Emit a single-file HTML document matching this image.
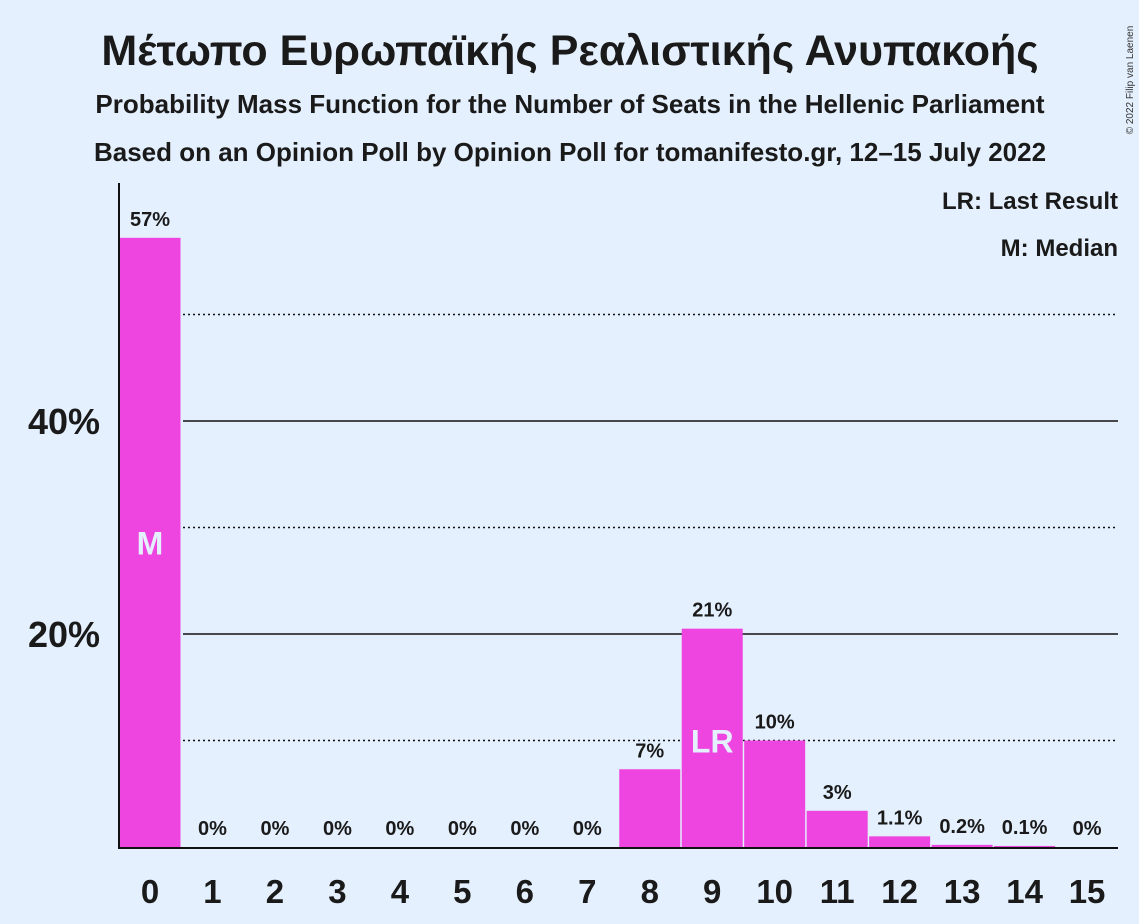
<!DOCTYPE html>
<html><head><meta charset="utf-8"><style>
body{margin:0;background:#e4f0fd;}
svg{display:block;font-family:"Liberation Sans",sans-serif;font-weight:bold;}
</style></head><body>
<svg id="chart" width="1139" height="924" viewBox="0 0 1139 924">
<rect width="1139" height="924" fill="#e4f0fd"/>
<text x="570" y="65" text-anchor="middle" font-size="43" fill="#1a1a1a">Μέτωπο Ευρωπαϊκής Ρεαλιστικής Ανυπακοής</text>
<text x="570" y="113" text-anchor="middle" font-size="26" fill="#1a1a1a">Probability Mass Function for the Number of Seats in the Hellenic Parliament</text>
<text x="570" y="161" text-anchor="middle" font-size="26" fill="#1a1a1a">Based on an Opinion Poll by Opinion Poll for tomanifesto.gr, 12–15 July 2022</text>
<text x="1133" y="80" font-size="10" font-weight="normal" fill="#333" transform="rotate(-90 1133 80)" text-anchor="middle">© 2022 Filip van Laenen</text>
<text x="1118" y="209" text-anchor="end" font-size="24" fill="#1a1a1a">LR: Last Result</text>
<text x="1118" y="256" text-anchor="end" font-size="24" fill="#1a1a1a">M: Median</text>
<g id="grid"></g>
<g id="bars"></g>
<line x1="119" y1="183" x2="119" y2="848" stroke="#111" stroke-width="2"/>
<line x1="118" y1="848" x2="1118" y2="848" stroke="#111" stroke-width="2"/>
</svg>
<script>
const categories=[0,1,2,3,4,5,6,7,8,9,10,11,12,13,14,15];
const values=[57.2,0,0,0,0,0,0,0,7.3,20.5,10.0,3.4,1.0,0.2,0.1,0];
const valueLabels=["57%","0%","0%","0%","0%","0%","0%","0%","7%","21%","10%","3%","1.1%","0.2%","0.1%","0%"];
const yTicks=[20,40];
const dottedTicks=[10,30,50];
const medianIndex=0;
const lastResultIndex=9;
const NS="http://www.w3.org/2000/svg";
const y=v=>847-v*10.65;
const x=i=>150+i*62.47;
const grid=document.getElementById('grid'),bars=document.getElementById('bars');
function mk(tag,attrs,parent,txt){const e=document.createElementNS(NS,tag);for(const k in attrs)e.setAttribute(k,attrs[k]);if(txt!==undefined)e.textContent=txt;parent.appendChild(e);return e;}
dottedTicks.forEach(t=>{const l=mk('line',{x1:183,x2:1118,y1:y(t),y2:y(t),stroke:'#111','stroke-width':1.5,'stroke-dasharray':'2,3'},grid);

});
yTicks.forEach(t=>{const l=mk('line',{x1:183,x2:1118,y1:y(t),y2:y(t),stroke:'#111','stroke-width':1.5},grid);


const tx=mk('text',{x:100,y:y(t)+13,'text-anchor':'end','font-size':36,fill:'#1a1a1a'},grid,t+'%');

});
categories.forEach((c,i)=>{
const v=values[i];
if(v>0){const r=mk('rect',{x:x(i)-30.5,y:y(v),width:61,height:847-y(v),fill:'#ee44e0'},bars);

}
const lt=mk('text',{x:x(i),y:y(v)-12,'text-anchor':'middle','font-size':20,fill:'#1a1a1a'},bars,valueLabels[i]);


const xt=mk('text',{x:x(i),y:903,'text-anchor':'middle','font-size':33,fill:'#1a1a1a'},bars,String(c));


});
const m=mk('text',{x:x(medianIndex),y:y(values[medianIndex]/2)+12,'text-anchor':'middle','font-size':32,fill:'#e4f0fd'},bars,'M');


const lr=mk('text',{x:x(lastResultIndex),y:y(10)+12,'text-anchor':'middle','font-size':32,fill:'#e4f0fd'},bars,'LR');


</script>
</body></html>
